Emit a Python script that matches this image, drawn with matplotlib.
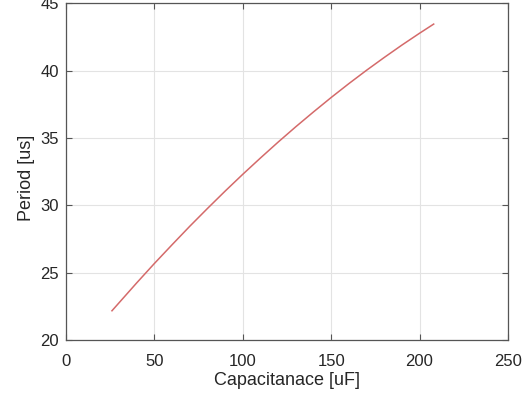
import matplotlib
matplotlib.use("Agg")
import matplotlib.pyplot as plt

# values
capacitance = [26, 40, 50, 60, 70, 80, 90, 100, 110, 120, 130, 140,
               150, 160, 170, 180, 190, 200, 208]
period = [22.17, 24.24, 25.68, 27.07, 28.44, 29.76, 31.05, 32.30, 33.51,
          34.69, 35.83, 36.93, 38.00, 39.03, 40.02, 40.97, 41.89, 42.77,
          43.45]

x_ticks = [0, 50, 100, 150, 200, 250]
y_ticks = [20, 25, 30, 35, 40, 45]

plt.rcParams['font.family'] = ['Liberation Sans', 'DejaVu Sans']

fig = plt.figure(figsize=(5.28, 4.0), dpi=100)
ax = fig.add_axes([0.125, 0.15, 0.837, 0.842])

ax.plot(capacitance, period, color="#d46a6a", linewidth=1.1)

ax.set_xlim(0, 250)
ax.set_ylim(20, 45)
ax.set_xticks(x_ticks)
ax.set_yticks(y_ticks)
ax.grid(True, color="#e3e3e3", linewidth=0.8)
ax.set_axisbelow(True)

ax.tick_params(direction="in", length=4, width=0.8, top=True, right=True,
               labelsize=12, colors="#555555", labelcolor="#262626")
ax.tick_params(axis="x", pad=10)
ax.tick_params(axis="y", pad=5)
for sp in ax.spines.values():
    sp.set_color("#555555")
    sp.set_linewidth(0.9)

ax.set_xlabel("Capacitanace [uF]", fontsize=13, color="#262626", labelpad=2)
ax.set_ylabel("Period [us]", fontsize=13, color="#262626")
ax.yaxis.set_label_coords(-0.07, 0.48)

fig.savefig("out.png", dpi=100)
